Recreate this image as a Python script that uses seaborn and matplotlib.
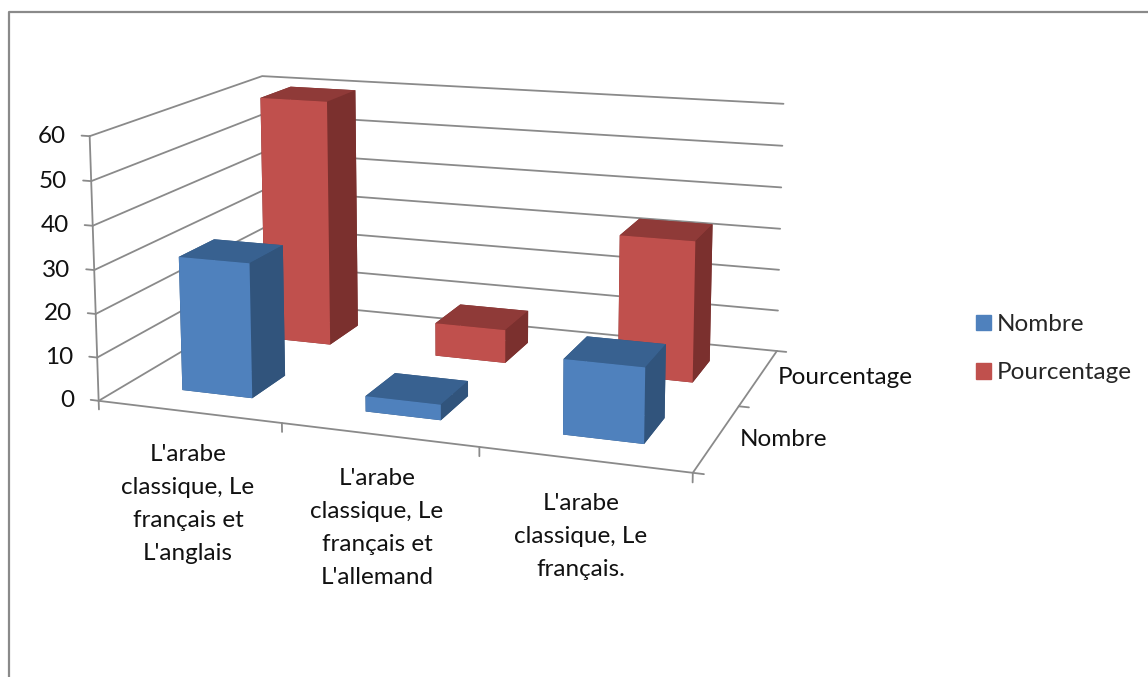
import numpy as np
import matplotlib
matplotlib.use("Agg")
import matplotlib.pyplot as plt
from matplotlib.lines import Line2D
from matplotlib.patches import Patch
import seaborn as sns

#############################################
# Data
#############################################
categories = ["L'arabe\nclassique, Le\nfrançais et\nL'anglais",
              "L'arabe\nclassique, Le\nfrançais et\nL'allemand",
              "L'arabe\nclassique, Le\nfrançais."]
series = ["Nombre", "Pourcentage"]
nombre = [31, 3.5, 16.5]
pourcentage = [60, 8, 33]
z_ticks = [0, 10, 20, 30, 40, 50, 60]

#############################################
# Style
#############################################
W, H = 1148, 677
sns.set_theme(style="white")
plt.rcParams['font.family'] = ['Lato', 'DejaVu Sans']
FS = 17.5
GREY = '#8a8a8a'
palette = sns.color_palette(['#4F81BD', '#C0504D'])
top_cols = ['#386190', '#8F3A38']
side_cols = ['#31547C', '#7B302E']

fig = plt.figure(figsize=(W / 100, H / 100), dpi=100)
ax = fig.add_axes([0, -0.35, 1, 1.7], projection='3d')
ax.set_axis_off()
ax.computed_zorder = False
ax.set_xlim(0, 3)
ax.set_ylim(0, 2)
ax.set_zlim(0, 60)
ax.apply_aspect()

#############################################
# Camera fitted on the corners of the chart box (Excel 3D view)
#############################################
box_world = [(0, 0, 0), (3, 0, 0), (3, 2, 0), (0, 2, 0), (0, 0, 60), (0, 2, 60), (3, 2, 60)]
box_pixel = [(101, 400), (692, 475), (778, 348), (264, 303), (88, 135), (264, 76), (783, 105)]


def view_xy(px, py):
    return ax.transData.inverted().transform((px, H - py))


A, b = [], []
for (X, Y, Z), (px, py) in zip(box_world, box_pixel):
    u, v = view_xy(px, py)
    A.append([X, Y, Z, 1, 0, 0, 0, 0, -u * X, -u * Y, -u * Z])
    A.append([0, 0, 0, 0, X, Y, Z, 1, -v * X, -v * Y, -v * Z])
    b += [u, v]
p = np.linalg.lstsq(np.array(A), np.array(b), rcond=None)[0]
M = np.array([[p[0], p[1], p[2], p[3]],
              [p[4], p[5], p[6], p[7]],
              [0, 0, 0, -1],
              [p[8], p[9], p[10], 1]])
ax.get_proj = lambda: M


def to_pixel(X, Y, Z):
    q = M @ np.array([X, Y, Z, 1.0])
    d = ax.transData.transform((q[0] / q[3], q[1] / q[3]))
    return d[0], H - d[1]


def label(px, py, s, **kw):
    fig.text(px / W, 1 - py / H, s, fontsize=FS, color='#111111', **kw)


#############################################
# Walls, floor and ticks
#############################################
line_kw = dict(color=GREY, lw=1.3, zorder=1)
for z in z_ticks:
    ax.plot([0, 0, 3], [0, 2, 2], [z, z, z], **line_kw)
    ax.plot([-0.045, 0], [0, 0], [z, z], **line_kw)
    px, py = to_pixel(0, 0, z)
    label(px - 24, py, str(z), ha='right', va='center')
ax.plot([0, 0], [0, 0], [0, 60], **line_kw)
ax.plot([0, 3, 3], [0, 0, 2], [0, 0, 0], **line_kw)
for x in range(4):
    ax.plot([x, x], [0, 0], [0, -2], **line_kw)
for y in range(3):
    ax.plot([3, 3.05], [y, y], [0, 0], **line_kw)

#############################################
# Bars
#############################################
bar_w, bar_d = 0.39, 0.40
for s, values in enumerate([pourcentage, nombre]):
    idx = 1 - s
    cols = [side_cols[idx], top_cols[idx], palette[idx], side_cols[idx], side_cols[idx], side_cols[idx]]
    for i, val in enumerate(values):
        ax.bar3d([i + 0.508 - bar_w / 2], [idx + 0.5 - bar_d / 2], [0], bar_w, bar_d, val,
                 color=cols, shade=False, linewidth=0, zorder=2 + s)

#############################################
# Text
#############################################
label(188, 444, categories[0], ha='center', va='top', linespacing=1.70)
label(377, 468, categories[1], ha='center', va='top', linespacing=1.70)
label(581, 493, categories[2], ha='center', va='top', linespacing=1.70)
label(778, 377, series[1], ha='left', va='center')
label(740, 439, series[0], ha='left', va='center')

handles = [Patch(color=palette[i], label=series[i]) for i in range(2)]
fig.legend(handles=handles, loc='upper left', bbox_to_anchor=(976 / W, 1 - 314 / H),
           frameon=False, fontsize=FS, handlelength=0.62, handleheight=0.62,
           handletextpad=0.25, labelspacing=1.12, borderpad=0, borderaxespad=0)

# Grey frame of the chart, cut off at the right and the bottom
fig.add_artist(Line2D([9 / W, 9 / W, 1], [0, 1 - 12 / H, 1 - 12 / H], color=GREY, lw=1.6))

fig.savefig("out.png", dpi=100, facecolor='white')
